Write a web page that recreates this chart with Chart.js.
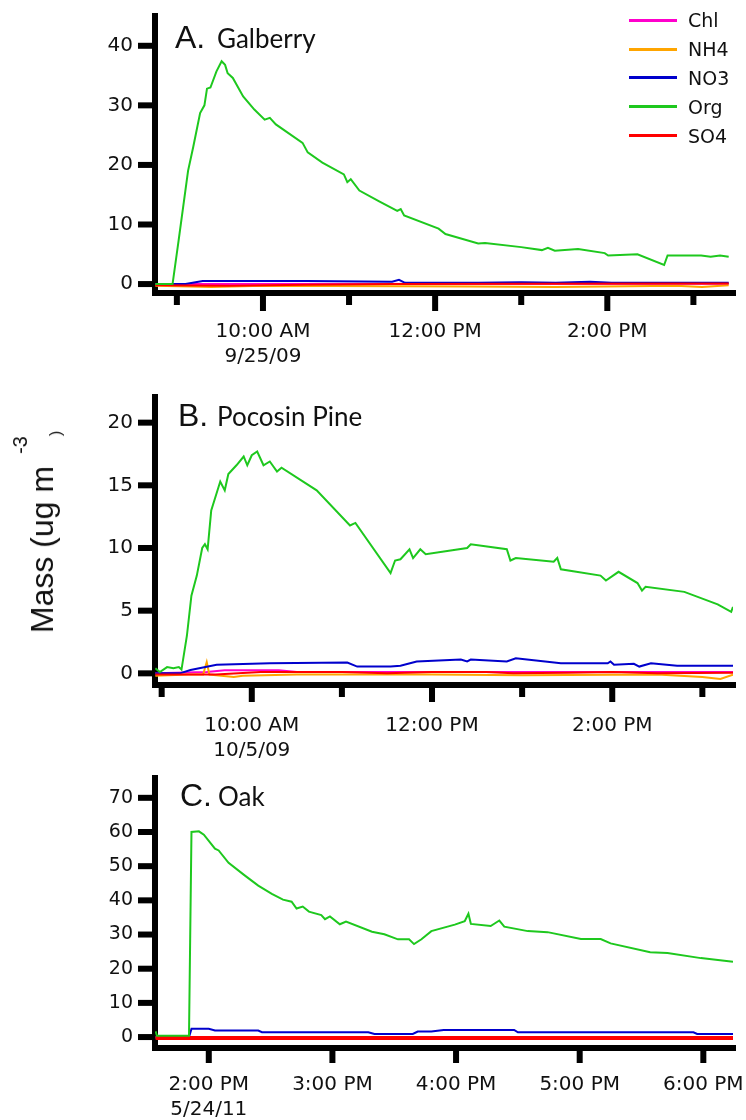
<!DOCTYPE html>
<html>
<head>
<meta charset="utf-8">
<script src="https://cdn.jsdelivr.net/npm/chart.js@4.4.0/dist/chart.umd.min.js"></script>
<style>
body { margin: 0; background: #fff; }
#wrap { position: relative; width: 746px; height: 1120px; overflow: hidden; }
canvas { position: absolute; left: 0; }
.lt { position: absolute; height: 0; white-space: nowrap; color: #111; font: 32px/0 "Liberation Sans", Arial, sans-serif; }
.nm { position: absolute; height: 0; white-space: nowrap; color: #111; font: 26px/0 Lato, sans-serif; }
#legend { position: absolute; left: 629px; top: 6px; font: 19px "DejaVu Sans", sans-serif; color: #111; }
#legend div { height: 28.8px; display: flex; align-items: center; }
#legend i { display: inline-block; width: 48px; height: 3px; margin-right: 11px; }
#ylab { position: absolute; left: 42.2px; top: 532px; height: 0; white-space: nowrap;
        font: 32px/0 "Liberation Sans", Arial, sans-serif; color: #111;
        transform: translateX(-50%) rotate(-90deg); }
#ylab span { position: relative; }
</style>
</head>
<body>
<div id="wrap">
  <canvas id="cA" width="746" height="370" style="top:0px"></canvas>
  <canvas id="cB" width="746" height="400" style="top:370px"></canvas>
  <canvas id="cC" width="746" height="375" style="top:745px"></canvas>

  <div class="lt" style="left:175px;top:36.9px">A.</div>
  <div class="nm" style="left:217px;top:37.9px">Galberry</div>
  <div class="lt" style="left:178px;top:414.9px">B.</div>
  <div class="nm" style="left:217px;top:415.9px">Pocosin Pine</div>
  <div class="lt" style="left:180px;top:794.9px">C.</div>
  <div class="nm" style="left:218px;top:795.9px">Oak</div>

  <div id="ylab">Mass (ug m<span style="top:-26px;margin-left:12px;font-size:20px">-3</span><span style="top:8px;font-size:16px">)</span></div>
  <div id="legend"></div>
</div>

<script>
// series names and colours
const seriesNames = ['Chl', 'NH4', 'NO3', 'Org', 'SO4'];
const colors = { Chl: '#ff00cc', NH4: '#ffa500', NO3: '#0000cc', Org: '#1ec81e', SO4: '#ff0000' };
const drawOrder = { Org: 0, SO4: 1, NO3: 2, NH4: 3, Chl: 4 };

// A. Galberry, 9/25/09  -- [hour of day, ug m-3]
const galOrg = [[8.75,0],[8.95,0],[9.02,7.3],[9.13,19],[9.19,23],[9.27,28.7],[9.32,30],[9.35,32.8],[9.39,33],
  [9.46,35.7],[9.52,37.4],[9.56,36.8],[9.59,35.4],[9.65,34.6],[9.77,31.5],[9.90,29.3],[10.02,27.6],[10.08,27.9],
  [10.15,26.8],[10.46,23.7],[10.52,22.1],[10.69,20.4],[10.94,18.4],[10.98,17.1],[11.02,17.6],[11.12,15.7],
  [11.35,13.9],[11.56,12.3],[11.60,12.6],[11.64,11.5],[12.04,9.3],[12.12,8.4],[12.50,6.8],[12.58,6.9],[13.00,6.2],
  [13.24,5.7],[13.31,6.1],[13.39,5.6],[13.66,5.9],[13.97,5.2],[14.01,4.8],[14.35,5.0],[14.66,3.2],[14.70,4.8],
  [15.09,4.8],[15.20,4.6],[15.31,4.8],[15.41,4.6]];
const galNO3 = [[8.75,0],[9.1,0],[9.3,0.5],[10.5,0.5],[11.5,0.4],[11.58,0.7],[11.65,0.2],[12.5,0.2],[13.0,0.3],
  [13.4,0.2],[13.8,0.4],[14.05,0.2],[15.41,0.2]];
const galSO4 = [[8.75,-0.2],[9.6,-0.3],[10.5,-0.1],[11.5,0],[13,0.05],[15.41,0.1]];
const galNH4 = [[8.75,-0.3],[9.4,-0.5],[10,-0.3],[12.4,-0.4],[13.4,-0.5],[14.8,-0.3],[15.1,-0.5],[15.41,-0.2]];
const galChl = [[8.75,0],[15.41,0.05]];
const galHours = [9, 10, 11, 12, 13, 14, 15];
const galMajor = [10, 12, 14];
const galYTicks = [0, 10, 20, 30, 40];

// B. Pocosin Pine, 10/5/09
const pocOrg = [[8.93,0.4],[8.98,0.1],[9.06,0.5],[9.13,0.4],[9.19,0.5],[9.22,0.3],[9.28,3.0],[9.33,6.2],[9.39,7.8],
  [9.45,10],[9.48,10.3],[9.51,9.9],[9.55,13],[9.65,15.3],[9.70,14.6],[9.74,15.9],[9.83,16.6],[9.91,17.3],[9.95,16.6],
  [10.0,17.4],[10.06,17.7],[10.13,16.6],[10.20,16.9],[10.28,16.1],[10.33,16.4],[10.72,14.6],[11.09,11.8],[11.15,12.0],
  [11.54,8.0],[11.59,9.0],[11.65,9.1],[11.75,9.9],[11.79,9.2],[11.87,9.9],[11.93,9.5],[12.39,10.0],[12.43,10.3],
  [12.83,9.9],[12.87,9.0],[12.93,9.2],[13.35,8.9],[13.39,9.2],[13.43,8.3],[13.87,7.8],[13.93,7.4],[14.07,8.1],
  [14.28,7.2],[14.33,6.6],[14.37,6.9],[14.80,6.5],[15.17,5.5],[15.32,4.9],[15.34,5.3]];
const pocNO3 = [[8.93,0],[9.2,0],[9.32,0.27],[9.61,0.68],[10.2,0.8],[11.06,0.86],[11.17,0.54],[11.54,0.54],
  [11.65,0.6],[11.83,0.95],[12.32,1.1],[12.39,0.95],[12.43,1.1],[12.83,0.95],[12.93,1.2],[13.43,0.8],[13.95,0.8],
  [13.98,0.95],[14.02,0.68],[14.24,0.76],[14.30,0.54],[14.43,0.8],[14.72,0.6],[15.34,0.6]];
const pocSO4 = [[8.93,-0.1],[9.3,-0.1],[9.6,-0.1],[10.1,0.1],[11,0.1],[11.5,0],[12,0.1],[12.6,0.1],[12.9,0],
  [13.5,0.05],[14,0.1],[14.5,0],[15.34,0.05]];
const pocNH4 = [[8.93,-0.2],[9.3,-0.1],[9.46,-0.1],[9.5,0.9],[9.53,-0.1],[9.8,-0.3],[9.9,-0.2],[10.5,-0.1],
  [12,-0.1],[13,-0.15],[14.5,-0.1],[15.0,-0.3],[15.2,-0.45],[15.34,-0.1]];
const pocChl = [[8.93,0],[9.5,0.1],[9.7,0.25],[10.3,0.25],[10.5,0.1],[15.34,0.1]];
const pocHours = [9, 10, 11, 12, 13, 14, 15];
const pocMajor = [10, 12, 14];
const pocYTicks = [0, 5, 10, 15, 20];

// C. Oak, 5/24/11
const oakOrg = [[13.57,1.7],[13.58,0.4],[13.84,0.4],[13.86,60],[13.92,60.2],[13.96,59.2],[14.05,55.1],[14.08,54.6],
  [14.16,51],[14.29,47.3],[14.40,44.3],[14.51,41.9],[14.60,40.2],[14.67,39.6],[14.71,37.6],[14.76,38.2],[14.81,36.7],
  [14.91,35.7],[14.94,34.5],[14.98,35.3],[15.06,33],[15.11,33.8],[15.32,30.8],[15.42,30.1],[15.53,28.6],[15.62,28.6],
  [15.66,27.2],[15.72,28.6],[15.80,31],[15.99,32.9],[16.07,33.9],[16.10,36.1],[16.12,33.1],[16.28,32.5],[16.35,34.1],
  [16.39,32.3],[16.58,31],[16.74,30.7],[17.01,28.7],[17.17,28.7],[17.25,27.4],[17.57,24.8],[17.71,24.6],[17.98,23.1],
  [18.24,22]];
const oakNO3 = [[13.57,0],[13.84,0],[13.86,2.4],[14.0,2.4],[14.05,1.9],[14.40,1.9],[14.43,1.4],[15.29,1.4],
  [15.34,0.9],[15.65,0.9],[15.69,1.6],[15.8,1.6],[15.9,2.1],[16.47,2.1],[16.5,1.4],[17.92,1.4],[17.95,0.9],[18.24,0.9]];
const oakSO4 = [[13.57,-0.3],[18.24,-0.3]];
const oakNH4 = [[13.57,-0.2],[18.24,-0.2]];
const oakChl = [[13.57,0],[18.24,0]];
const oakHours = [14, 15, 16, 17, 18];
const oakMajor = [14, 15, 16, 17, 18];
const oakYTicks = [0, 10, 20, 30, 40, 50, 60, 70];

function hourLabel(h) {
  const hh = h % 12 || 12;
  return hh + ':00 ' + (h < 12 ? 'AM' : 'PM');
}

// thick Igor-style tick marks, major ones longer
const tickMarks = {
  id: 'tickMarks',
  afterDraw(chart, args, o) {
    const ctx = chart.ctx, xs = chart.scales.x, ys = chart.scales.y, a = chart.chartArea;
    ctx.save();
    ctx.fillStyle = '#000';
    xs.ticks.forEach(t => {
      const px = xs.getPixelForValue(t.value);
      ctx.fillRect(px - 3, a.bottom, 6, t.major ? o.major : o.minor);
    });
    ys.ticks.forEach(t => {
      const py = ys.getPixelForValue(t.value);
      ctx.fillRect(a.left - o.yLen, py - 3, o.yLen, 6);
    });
    ctx.restore();
  }
};

function makePanel(id, p) {
  const canvas = document.getElementById(id);
  const H = canvas.height;
  const datasets = seriesNames.map(n => ({
    label: n,
    data: p.series[n].map(d => ({ x: d[0], y: d[1] })),
    borderColor: colors[n],
    borderWidth: n === 'SO4' ? p.redWidth : 2,
    pointRadius: 0,
    tension: 0,
    fill: false,
    order: drawOrder[n]
  }));
  new Chart(canvas, {
    type: 'line',
    data: { datasets: datasets },
    plugins: [tickMarks],
    options: {
      responsive: false,
      animation: false,
      events: [],
      layout: { padding: { left: 0, right: 13, top: p.top, bottom: 0 } },
      plugins: {
        legend: { display: false },
        tooltip: { enabled: false },
        tickMarks: { major: p.major, minor: p.minor, yLen: 17 }
      },
      scales: {
        x: {
          type: 'linear',
          min: p.xMin, max: p.xMax,
          afterBuildTicks: s => { s.ticks = p.xTicks.map(v => ({ value: v, major: p.xMajor.includes(v) })); },
          afterFit: s => { s.height = H - p.bottom; s.paddingLeft = 0; s.paddingRight = 0; },
          grid: { drawOnChartArea: false, drawTicks: false, lineWidth: 6, color: '#000' },
          border: { display: true, width: 6, color: '#000' },
          ticks: {
            autoSkip: false, maxRotation: 0, padding: p.xPad, color: '#111',
            font: { family: 'DejaVu Sans', size: 20, lineHeight: 1.25 },
            callback: v => !p.xMajor.includes(v) ? '' : (v === p.dateAt ? [hourLabel(v), p.date] : hourLabel(v))
          }
        },
        y: {
          type: 'linear',
          min: p.yMin, max: p.yMax,
          afterBuildTicks: s => { s.ticks = p.yTicks.map(v => ({ value: v })); },
          afterFit: s => { s.width = 155; s.paddingTop = 0; s.paddingBottom = 0; },
          grid: { drawOnChartArea: false, drawTicks: false, lineWidth: 6, color: '#000' },
          border: { display: true, width: 6, color: '#000' },
          ticks: { padding: 22, color: '#111', font: { family: 'DejaVu Sans', size: p.yFont } }
        }
      }
    }
  });
}

makePanel('cA', {
  series: { Chl: galChl, NH4: galNH4, NO3: galNO3, Org: galOrg, SO4: galSO4 },
  xMin: 8.746, xMax: 15.46, yMin: -1.5, yMax: 45,
  xTicks: galHours, xMajor: galMajor, yTicks: galYTicks, dateAt: 10, date: '9/25/09',
  top: 16, bottom: 293, xPad: 26, major: 18, minor: 12, redWidth: 2, yFont: 20
});
makePanel('cB', {
  series: { Chl: pocChl, NH4: pocNH4, NO3: pocNO3, Org: pocOrg, SO4: pocSO4 },
  xMin: 8.926, xMax: 15.34, yMin: -0.93, yMax: 22.07,
  xTicks: pocHours, xMajor: pocMajor, yTicks: pocYTicks, dateAt: 10, date: '10/5/09',
  top: 26.7, bottom: 315, xPad: 28, major: 17, minor: 12, redWidth: 2, yFont: 20
});
makePanel('cC', {
  series: { Chl: oakChl, NH4: oakNH4, NO3: oakNO3, Org: oakOrg, SO4: oakSO4 },
  xMin: 13.565, xMax: 18.24, yMin: -3.2, yMax: 75.8,
  xTicks: oakHours, xMajor: oakMajor, yTicks: oakYTicks, dateAt: 14, date: '5/24/11',
  top: 33, bottom: 303, xPad: 24, major: 15, minor: 15, redWidth: 4, yFont: 19
});

// legend for the top panel
const legend = document.getElementById('legend');
seriesNames.forEach(n => {
  const row = document.createElement('div');
  const sw = document.createElement('i');
  sw.style.background = colors[n];
  row.appendChild(sw);
  row.appendChild(document.createTextNode(n));
  legend.appendChild(row);
});
</script>
</body>
</html>
